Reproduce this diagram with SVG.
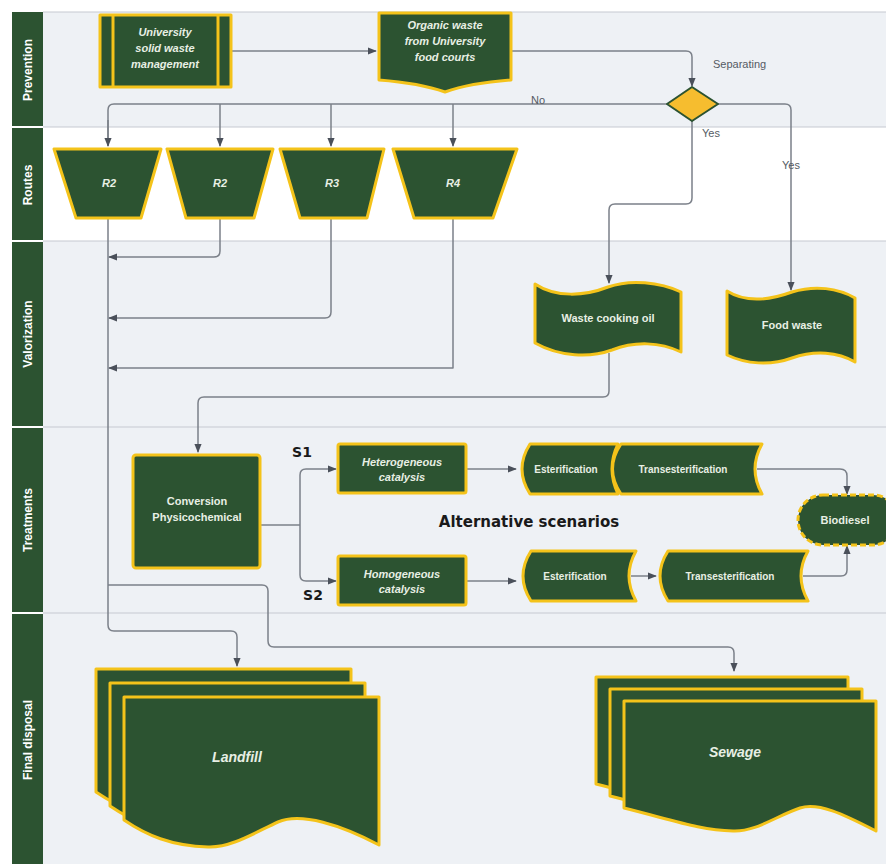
<svg xmlns="http://www.w3.org/2000/svg" width="886" height="864" viewBox="0 0 886 864">
<defs>
<marker id="ah" viewBox="0 0 10 10" refX="9" refY="5" markerWidth="9" markerHeight="9" orient="auto" markerUnits="userSpaceOnUse"><path d="M0,1 L10,5 L0,9 Z" fill="#4a505a"/></marker>
<style>
.lane{fill:#eef1f5}
.lanew{fill:#ffffff}
.hdr{fill:#2c5331}
.hdrt{fill:#ffffff;font-family:"Liberation Sans",Arial,sans-serif;font-weight:bold;font-size:12px;text-anchor:middle}
.sep{stroke:#c6cad1;stroke-width:1.2;fill:none}
.n{fill:#2c5331;stroke:#f4c31a;stroke-width:3;stroke-linejoin:round}
.nl{fill:none;stroke:#f4c31a;stroke-width:3}
.t{fill:#e8efe4;font-family:"Liberation Sans",Arial,sans-serif;font-weight:bold;font-size:11px;text-anchor:middle}
.ti{font-style:italic}
.big{font-size:14px}
.c{fill:none;stroke:#7b8089;stroke-width:1.5;stroke-linejoin:round}
.ca{marker-end:url(#ah)}
.lbl{fill:#555b64;font-family:"Liberation Sans",Arial,sans-serif;font-size:11px}
.s{fill:#1a1a1a;font-family:"DejaVu Sans","Liberation Sans",sans-serif;font-weight:bold;font-size:14px}
</style>
</defs>

<g id="lanes">
<rect class="lane" x="43" y="12" width="843" height="115"/>
<rect class="lanew" x="43" y="127" width="843" height="114"/>
<rect class="lane" x="43" y="241" width="843" height="186"/>
<rect class="lane" x="43" y="427" width="843" height="186"/>
<rect class="lane" x="43" y="613" width="843" height="251"/>
<line class="sep" x1="43" y1="12" x2="886" y2="12"/>
<line class="sep" x1="43" y1="127" x2="886" y2="127"/>
<line class="sep" x1="43" y1="241" x2="886" y2="241"/>
<line class="sep" x1="43" y1="427" x2="886" y2="427"/>
<line class="sep" x1="43" y1="613" x2="886" y2="613"/>
<rect class="hdr" x="12" y="12" width="31" height="114"/>
<rect class="hdr" x="12" y="128" width="31" height="112"/>
<rect class="hdr" x="12" y="242" width="31" height="184"/>
<rect class="hdr" x="12" y="428" width="31" height="184"/>
<rect class="hdr" x="12" y="614" width="31" height="250"/>
<text class="hdrt" transform="translate(32,70) rotate(-90)">Prevention</text>
<text class="hdrt" transform="translate(32,185) rotate(-90)">Routes</text>
<text class="hdrt" transform="translate(32,334) rotate(-90)">Valorization</text>
<text class="hdrt" transform="translate(32,520) rotate(-90)">Treatments</text>
<text class="hdrt" transform="translate(32,740) rotate(-90)">Final disposal</text>
</g>

<g id="connectors">
<path class="c ca" d="M231,51 H376"/>
<path class="c ca" d="M511,51 H686 Q692,51 692,57 V86"/>
<path class="c" d="M667,104 H114 Q108,104 108,110 V146"/>
<path class="c ca" d="M108,120 V146"/>
<path class="c ca" d="M220,104 V146"/>
<path class="c ca" d="M331,104 V146"/>
<path class="c ca" d="M453,104 V146"/>
<path class="c ca" d="M692,121 V198 Q692,204 686,204 H615 Q609,204 609,210 V283"/>
<path class="c ca" d="M718,104 H785 Q791,104 791,110 V290"/>
<path class="c ca" d="M108,219 V625 Q108,631 114,631 H231 Q237,631 237,637 V666"/>
<path class="c ca" d="M220,219 V251 Q220,257 214,257 H109"/>
<path class="c ca" d="M331,219 V312 Q331,318 325,318 H109"/>
<path class="c ca" d="M453,219 V368 H109"/>
<path class="c ca" d="M609,353 V391 Q609,397 603,397 H204 Q198,397 198,403 V452"/>
<path class="c ca" d="M108,585 H262 Q268,585 268,591 V641 Q268,647 274,647 H728 Q734,647 734,653 V671"/>
<path class="c" d="M261,525 H300"/>
<path class="c ca" d="M300,525 V475 Q300,469 306,469 H336"/>
<path class="c ca" d="M300,525 V575 Q300,581 306,581 H336"/>
<path class="c ca" d="M467,469 H516"/>
<path class="c ca" d="M467,581 H516"/>
<path class="c ca" d="M631,576 H656"/>
<path class="c ca" d="M757,469 H840 Q847,469 847,476 V494"/>
<path class="c ca" d="M803,576 H841 Q847,576 847,570 V546"/>
<text class="lbl" x="538" y="104" text-anchor="middle">No</text>
<text class="lbl" x="713" y="68">Separating</text>
<text class="lbl" x="711" y="137" text-anchor="middle">Yes</text>
<text class="lbl" x="791" y="169" text-anchor="middle">Yes</text>
</g>

<g id="n-university">
<rect class="n" x="100" y="15" width="131" height="72"/>
<line class="nl" x1="113" y1="15" x2="113" y2="87"/>
<line class="nl" x1="218" y1="15" x2="218" y2="87"/>
<text class="t ti" x="165" y="36">University</text>
<text class="t ti" x="165" y="52">solid waste</text>
<text class="t ti" x="165" y="68">management</text>
</g>

<g id="n-organic">
<path class="n" d="M379,13 H511 V80 C485,82 462,86 445,92 C428,86 405,82 379,80 Z"/>
<text class="t ti" x="445" y="29">Organic waste</text>
<text class="t ti" x="445" y="45">from University</text>
<text class="t ti" x="445" y="61">food courts</text>
</g>

<g id="n-separating">
<path d="M692,87 L718,104 L692,121 L667,104 Z" fill="#f6bd2f" stroke="#2c5331" stroke-width="2" stroke-linejoin="round"/>
</g>

<g id="n-r2a">
<path class="n" d="M54,149 H161 L141,218 H76 Z"/>
<text class="t ti" x="109" y="187">R2</text>
</g>
<g id="n-r2b">
<path class="n" d="M167,149 H273 L254,218 H186 Z"/>
<text class="t ti" x="220" y="187">R2</text>
</g>
<g id="n-r3">
<path class="n" d="M280,149 H384 L367,218 H300 Z"/>
<text class="t ti" x="332" y="187">R3</text>
</g>
<g id="n-r4">
<path class="n" d="M393,149 H517 L493,218 H414 Z"/>
<text class="t ti" x="453" y="187">R4</text>
</g>

<g id="n-wco">
<path class="n" d="M535,284 C556,298 585,296 608,287 C630,279 660,282 681,292 V352 C660,342 635,341 612,350 C590,358 560,357 535,343 Z"/>
<text class="t" x="608" y="322">Waste cooking oil</text>
</g>

<g id="n-food">
<path class="n" d="M727,291 C746,303 770,300 792,292 C815,285 838,288 855,298 V362 C838,352 815,350 792,358 C770,366 746,364 727,355 Z"/>
<text class="t" x="792" y="329">Food waste</text>
</g>

<g id="n-conversion">
<rect class="n" x="133" y="455" width="127" height="113" rx="3"/>
<text class="t" x="197" y="505">Conversion</text>
<text class="t" x="197" y="521">Physicochemical</text>
</g>

<g id="n-hetero">
<rect class="n" x="338" y="444" width="128" height="49" rx="2"/>
<text class="t ti" x="402" y="466">Heterogeneous</text>
<text class="t ti" x="402" y="481">catalysis</text>
</g>

<g id="n-homo">
<rect class="n" x="338" y="556" width="128" height="49" rx="2"/>
<text class="t ti" x="402" y="578">Homogeneous</text>
<text class="t ti" x="402" y="593">catalysis</text>
</g>

<g id="n-ester1">
<path class="n" d="M530,444 H618 Q606,469 618,494 H530 Q514,469 530,444 Z"/>
<text class="t" x="566" y="473" style="font-size:10px">Esterification</text>
</g>
<g id="n-trans1">
<path class="n" d="M621,444 H762 Q748,469 762,494 H621 Q604,469 621,444 Z"/>
<text class="t" x="683" y="473" style="font-size:10px">Transesterification</text>
</g>

<g id="n-ester2">
<path class="n" d="M531,551 H636 Q622,576 636,601 H531 Q515,576 531,551 Z"/>
<text class="t" x="575" y="580" style="font-size:10px">Esterification</text>
</g>
<g id="n-trans2">
<path class="n" d="M668,551 H808 Q794,576 808,601 H668 Q652,576 668,551 Z"/>
<text class="t" x="730" y="580" style="font-size:10px">Transesterification</text>
</g>

<g id="n-biodiesel">
<rect x="798" y="495" width="100" height="50" rx="25" fill="#2c5331" stroke="#f4c31a" stroke-width="3" stroke-dasharray="6 3"/>
<text class="t" x="845" y="524">Biodiesel</text>
</g>

<text class="s" x="529" y="527" text-anchor="middle" style="font-size:15px">Alternative scenarios</text>
<text class="s" x="302" y="457" text-anchor="middle">S1</text>
<text class="s" x="313" y="600" text-anchor="middle">S2</text>

<g id="n-landfill">
<path class="n" d="M96,669 H351 V817 C313,797 273,784 250,794 C228,804 203,820 180,819 C143,818 118,807 96,792 Z"/>
<path class="n" d="M110,683 H365 V831 C327,811 287,798 264,808 C242,818 217,834 194,833 C157,832 132,821 110,806 Z"/>
<path class="n" d="M124,697 H379 V845 C341,825 301,812 278,822 C256,832 231,848 208,847 C171,846 146,835 124,820 Z"/>
<text class="t ti big" x="237" y="762">Landfill</text>
</g>

<g id="n-sewage">
<path class="n" d="M596,677 H848 V807 C815,790 790,778 772,784 C748,792 728,808 705,807 C672,806 648,797 596,784 Z"/>
<path class="n" d="M610,689 H862 V819 C829,802 804,790 786,796 C762,804 742,820 719,819 C686,818 662,809 610,796 Z"/>
<path class="n" d="M624,701 H876 V831 C843,814 818,802 800,808 C776,816 756,832 733,831 C700,830 676,821 624,808 Z"/>
<text class="t ti big" x="735" y="757">Sewage</text>
</g>
</svg>
